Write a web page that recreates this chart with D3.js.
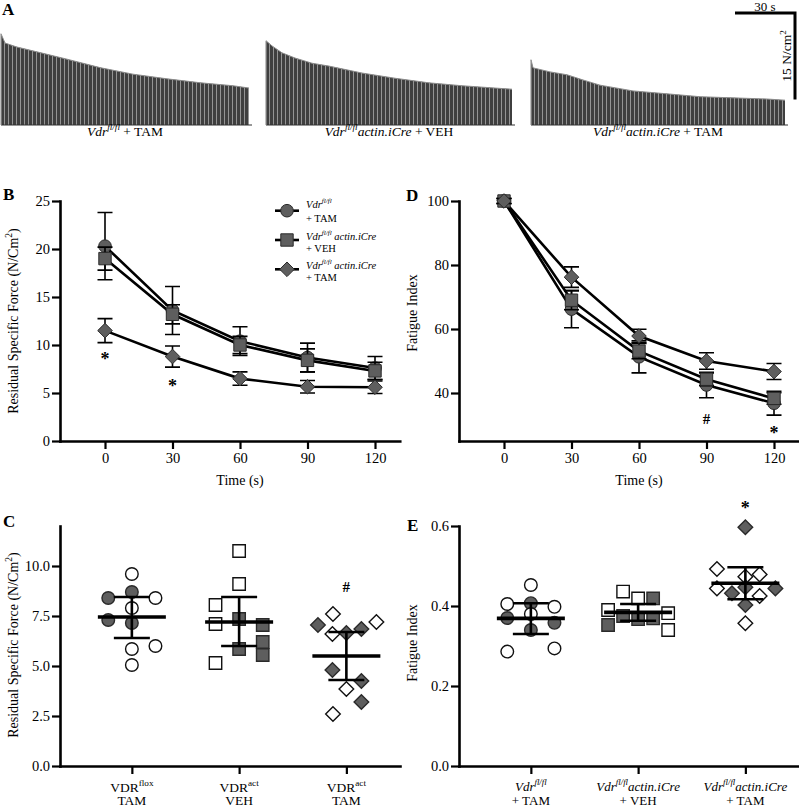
<!DOCTYPE html>
<html>
<head>
<meta charset="utf-8">
<script src="https://cdn.jsdelivr.net/npm/d3@7/dist/d3.min.js"></script>
<style>
html,body{margin:0;padding:0;background:#fff;}
svg{display:block;}
svg text{white-space:pre;font-family:"Liberation Serif",serif;}
</style>
</head>
<body>
<svg id="fig" width="799" height="807"></svg>
<script>
// ===================== DATA =====================
// Panel A: representative traces – peak force envelope (N/cm²) vs time (s)
const traceTimes1 = [0, 2, 8, 20, 33, 50, 66, 83, 100, 116, 124];
const tracePeaks1 = [15.8, 14.2, 13.5, 12.5, 11.4, 9.9, 8.8, 8.0, 7.3, 6.8, 6.4];
const traceTimes2 = [0, 3, 8, 14.5, 23, 31.5, 48, 64.5, 81.5, 98, 114.5, 123];
const tracePeaks2 = [14.6, 13.7, 12.5, 11.6, 10.7, 10.2, 9.0, 8.1, 7.3, 6.8, 6.4, 6.2];
const traceTimes3 = [0, 1, 9.5, 18, 26, 34.5, 51, 68, 84.5, 101, 118, 127];
const tracePeaks3 = [11.3, 9.9, 9.2, 8.7, 7.8, 6.9, 5.9, 5.4, 4.9, 4.7, 4.5, 4.3];
const scaleBarTime = 30;     // s
const scaleBarForce = 15;    // N/cm²

// Panels B & D: time course
const timePoints = [0, 30, 60, 90, 120];
const forceCtrlMean = [20.3, 13.6, 10.4, 8.7, 7.6];
const forceCtrlSem  = [3.5, 2.5, 1.5, 1.5, 1.2];
const forceVehMean  = [19.0, 13.2, 10.0, 8.4, 7.3];
const forceVehSem   = [1.2, 1.0, 0.9, 1.2, 0.9];
const forceTamMean  = [11.5, 8.8, 6.5, 5.65, 5.6];
const forceTamSem   = [1.25, 1.1, 0.7, 0.65, 0.65];
const forceYTicks = [0, 5, 10, 15, 20, 25];

const fatCtrlMean = [100, 66.2, 51.3, 42.5, 36.8];
const fatCtrlSem  = [0.8, 5.8, 5.0, 4.0, 3.7];
const fatVehMean  = [100, 69.0, 53.1, 44.3, 38.3];
const fatVehSem   = [0.8, 3.0, 2.4, 2.0, 1.8];
const fatTamMean  = [100, 76.2, 57.8, 50.0, 46.7];
const fatTamSem   = [0.8, 3.2, 2.1, 2.6, 2.5];
const fatYTicks = [40, 60, 80, 100];

// significance marks (time, value, symbol)
const marksB = [[0, 8.9, "*"], [30, 6.07, "*"]];
const marksD = [[90, 31.9, "#"], [120, 28.4, "*"]];

// Panel C: residual specific force, individual animals
const cCircleVals   = [9.6, 8.4, 8.7, 8.4, 7.9, 7.3, 7.15, 5.85, 6.0, 5.05];
const cCircleJit    = [0, -0.22, 0, 0.22, 0, -0.22, 0, 0, 0.22, 0];
const cCircleFilled = [0, 1, 1, 0, 0, 1, 1, 0, 0, 0];
const cSquareVals   = [10.75, 9.1, 8.05, 7.1, 7.35, 7.05, 6.2, 5.85, 5.55, 5.15];
const cSquareJit    = [0, 0, -0.22, -0.22, 0, 0.22, 0.22, 0, 0.22, -0.22];
const cSquareFilled = [0, 0, 0, 0, 1, 1, 1, 1, 1, 0];
const cDiamondVals   = [7.6, 7.2, 7.05, 6.65, 6.85, 6.6, 4.8, 4.25, 3.85, 3.2, 2.6];
const cDiamondJit    = [-0.125, 0.28, -0.265, 0, 0.14, -0.13, -0.13, 0.14, 0, 0.14, -0.125];
const cDiamondFilled = [0, 0, 1, 1, 1, 0, 1, 1, 0, 1, 0];
const cMean  = [7.45, 7.2, 5.5];
const cUpper = [8.45, 8.45, 6.7];
const cLower = [6.4, 6.0, 4.3];
const cYTicks = [0, 2.5, 5, 7.5, 10];
const marksC = [[2, 8.97, "#"]];

// Panel E: fatigue index, individual animals
const eCircleVals   = [0.4525, 0.405, 0.407, 0.398, 0.38, 0.37, 0.358, 0.34, 0.286, 0.294];
const eCircleJit    = [0, -0.22, 0, 0.22, 0, -0.22, 0.22, 0, -0.22, 0.22];
const eCircleFilled = [0, 0, 1, 0, 0, 1, 1, 1, 0, 0];
const eSquareVals   = [0.436, 0.419, 0.419, 0.39, 0.375, 0.367, 0.369, 0.382, 0.3525, 0.34];
const eSquareJit    = [-0.14, 0, 0.14, -0.28, -0.14, 0, 0.14, 0.28, -0.28, 0.28];
const eSquareFilled = [0, 0, 1, 0, 1, 1, 1, 0, 1, 0];
const eDiamondVals   = [0.597, 0.4925, 0.4733, 0.479, 0.4317, 0.4467, 0.444, 0.444, 0.425, 0.4025, 0.357];
const eDiamondJit    = [0, -0.265, 0, 0.133, -0.125, 0, -0.265, 0.28, 0.133, 0, 0];
const eDiamondFilled = [1, 0, 0, 0, 1, 1, 0, 1, 0, 1, 0];
const eMean  = [0.369, 0.384, 0.457];
const eUpper = [0.407, 0.405, 0.497];
const eLower = [0.33, 0.363, 0.417];
const eYTicks = [0, 0.2, 0.4, 0.6];
const marksE = [[2, 0.6525, "*"]];

// Labels
const VDR = [{t: "Vdr", i: 1}, {t: "fl/fl", i: 1, sup: 1}];
const traceLabels = [
  VDR.concat([{t: " + TAM"}]),
  VDR.concat([{t: "actin.iCre", i: 1}, {t: " + VEH"}]),
  VDR.concat([{t: "actin.iCre", i: 1}, {t: " + TAM"}])
];
const legendLabels = [
  [VDR, [{t: "+ TAM"}]],
  [VDR.concat([{t: " actin.iCre", i: 1}]), [{t: "+ VEH"}]],
  [VDR.concat([{t: " actin.iCre", i: 1}]), [{t: "+ TAM"}]]
];
const cCatLabels = [
  [[{t: "VDR"}, {t: "flox", sup: 1}], [{t: "TAM"}]],
  [[{t: "VDR"}, {t: "act", sup: 1}], [{t: "VEH"}]],
  [[{t: "VDR"}, {t: "act", sup: 1}], [{t: "TAM"}]]
];
const eCatLabels = [
  [VDR, [{t: "+ TAM"}]],
  [VDR.concat([{t: "actin.iCre", i: 1}]), [{t: "+ VEH"}]],
  [VDR.concat([{t: "actin.iCre", i: 1}]), [{t: "+ TAM"}]]
];
const forceLabel = [{t: "Residual Specific Force (N/Cm"}, {t: "2", sup: 1}, {t: ")"}];
const fatigueLabel = [{t: "Fatigue Index"}];
const timeLabel = [{t: "Time (s)"}];

// ===================== DRAWING =====================
const SERIF = "Liberation Serif";
const svg = d3.select("#fig");
const FILL = "#5e5e5e", EDGE = "#2a2a2a";

function rich(parent, x, y, parts, size, anchor) {
  const t = parent.append("text").attr("x", x).attr("y", y)
    .attr("font-family", SERIF).attr("font-size", size)
    .attr("text-anchor", anchor || "middle").attr("fill", "#000");
  let up = false;
  parts.forEach(p => {
    const s = t.append("tspan").text(p.t);
    if (p.i) s.attr("font-style", "italic");
    if (p.sup) {
      s.attr("font-size", size * 0.68);
      if (!up) { s.attr("dy", -size * 0.42); up = true; }
    } else if (up) { s.attr("dy", size * 0.42); up = false; }
  });
  return t;
}
function vrich(parent, cx, cy, parts, size) {
  const g = parent.append("g").attr("transform", `translate(${cx + size * 0.33},${cy}) rotate(-90)`);
  return rich(g, 0, 0, parts, size, "middle");
}
function panelLetter(x, y, s) {
  svg.append("text").attr("x", x).attr("y", y).attr("font-family", SERIF)
    .attr("font-weight", "bold").attr("font-size", 17).text(s);
}
const shapes = {
  circle: r => `M${-r},0A${r},${r} 0 1,0 ${r},0A${r},${r} 0 1,0 ${-r},0Z`,
  square: r => `M${-r},${-r}H${r}V${r}H${-r}Z`,
  diamond: r => `M0,${-r}L${r},0L0,${r}L${-r},0Z`
};
const shapeSize = {circle: 6.3, square: 6.2, diamond: 7.3};

function styleAxis(g, fs) {
  g.attr("font-family", SERIF);
  g.select(".domain").attr("stroke", "#000").attr("stroke-width", 2.6).attr("stroke-linecap", "square");
  g.selectAll(".tick line").attr("stroke", "#000").attr("stroke-width", 2.2);
  g.selectAll(".tick text").attr("font-family", SERIF).attr("font-size", fs || 14).attr("fill", "#000");
}

// ---------- Panel A ----------
panelLetter(2, 15, "A");
const defs = svg.append("defs");
const pat = defs.append("pattern").attr("id", "stripes").attr("patternUnits", "userSpaceOnUse")
  .attr("width", 4).attr("height", 8);
pat.append("rect").attr("x", 3).attr("width", 1).attr("height", 8).attr("fill", "#b0b0b0").attr("fill-opacity", 0.75);

const xT = d3.scaleLinear().domain([0, scaleBarTime]).range([0, 60]);
const yT = d3.scaleLinear().domain([0, scaleBarForce]).range([125, 125 - 86.6]);
const traceArea = d3.area().x(d => xT(d[0])).y0(yT(0)).y1(d => yT(d[1]));
const traceTop = d3.line().x(d => xT(d[0])).y(d => yT(d[1]));
const traces = [[traceTimes1, tracePeaks1], [traceTimes2, tracePeaks2], [traceTimes3, tracePeaks3]];
const traceX0 = [1, 266, 531];
traces.forEach((tr, k) => {
  const pts = tr[0].map((t, i) => [t, tr[1][i]]);
  const g = svg.append("g").attr("transform", `translate(${traceX0[k]},0)`);
  g.append("path").datum(pts).attr("d", traceArea).style("fill", "#3f3f3f");
  g.append("path").datum(pts).attr("d", traceArea).style("fill", "url(#stripes)");
  g.append("path").datum(pts).attr("d", traceTop).attr("fill", "none").attr("stroke", "#8c8c8c").attr("stroke-width", 1);
  const tEnd = tr[0][tr[0].length - 1];
  g.append("line").attr("x1", xT(0)).attr("x2", xT(tEnd) + 3).attr("y1", yT(0)).attr("y2", yT(0))
    .attr("stroke", "#333").attr("stroke-width", 1.2);
  g.append("line").attr("x1", xT(0)).attr("x2", xT(0)).attr("y1", yT(0)).attr("y2", yT(tr[1][0]))
    .attr("stroke", "#9a9a9a").attr("stroke-width", 1.2);
  rich(g, (xT(0) + xT(tEnd)) / 2, 136, traceLabels[k], 13.5, "middle");
});
// scale bar
const sb = svg.append("g").attr("transform", "translate(735,0)");
sb.append("path").attr("d", `M${xT(0)},13H${xT(scaleBarTime)}V${13 + (yT(0) - yT(scaleBarForce))}`)
  .attr("fill", "none").attr("stroke", "#000").attr("stroke-width", 3);
rich(sb, xT(scaleBarTime / 2), 10.5, [{t: "30 s"}], 13, "middle");
vrich(sb, xT(scaleBarTime) - 8, 56, [{t: "15 N/cm"}, {t: "2", sup: 1}], 13.5);

// ---------- Line charts (B, D) ----------
function lineChart(cfg) {
  const g = svg.append("g");
  const xs = d3.scaleLinear().domain([-20, 131]).range([cfg.x0, cfg.x0 + 339.75]);
  const ys = d3.scaleLinear().domain(cfg.ydom).range([441, 201]);
  const ax = g.append("g").attr("transform", "translate(0,441)")
    .call(d3.axisBottom(xs).tickValues(timePoints).tickFormat(d3.format("d")).tickSize(8).tickSizeOuter(0).tickPadding(4));
  styleAxis(ax, 14.5);
  const ay = g.append("g").attr("transform", `translate(${cfg.x0},0)`)
    .call(d3.axisLeft(ys).tickValues(cfg.yticks).tickFormat(d3.format("d")).tickSize(8).tickSizeOuter(0).tickPadding(2));
  styleAxis(ay, 14.5);
  rich(g, xs(60), 485, timeLabel, 14, "middle");
  vrich(g, cfg.x0 - 47, cfg.ylabY, cfg.ylabel, 14);

  const line = d3.line().x(d => xs(d[0])).y(d => ys(d[1]));
  cfg.series.forEach(s => {
    g.append("path").datum(timePoints.map((t, i) => [t, s.mean[i]])).attr("d", line)
      .attr("fill", "none").attr("stroke", "#000").attr("stroke-width", 2.6);
  });
  cfg.series.forEach(s => {
    timePoints.forEach((t, i) => {
      const x = xs(t), yu = ys(s.mean[i] + s.sem[i]), yl = ys(s.mean[i] - s.sem[i]);
      g.append("path").attr("d", `M${x},${yu}V${yl}M${x - 7.5},${yu}H${x + 7.5}M${x - 7.5},${yl}H${x + 7.5}`)
        .attr("fill", "none").attr("stroke", "#000").attr("stroke-width", 1.6);
    });
    timePoints.forEach((t, i) => {
      g.append("path").attr("d", shapes[s.shape](shapeSize[s.shape]))
        .attr("transform", `translate(${xs(t)},${ys(s.mean[i])})`)
        .attr("fill", FILL).attr("stroke", EDGE).attr("stroke-width", 1);
    });
  });
  cfg.marks.forEach(m => {
    g.append("text").attr("x", xs(m[0])).attr("y", ys(m[1]) + (m[2] === "*" ? 9 : 5.5))
      .attr("text-anchor", "middle").attr("font-family", SERIF).attr("font-weight", "bold")
      .attr("font-size", m[2] === "*" ? 18 : 15).text(m[2]);
  });
  return {g, xs, ys};
}

panelLetter(3, 200, "B");
const B = lineChart({
  x0: 60, ydom: [0, 25], yticks: forceYTicks, ylabel: forceLabel, ylabY: 321,
  series: [
    {mean: forceCtrlMean, sem: forceCtrlSem, shape: "circle"},
    {mean: forceVehMean, sem: forceVehSem, shape: "square"},
    {mean: forceTamMean, sem: forceTamSem, shape: "diamond"}
  ],
  marks: marksB
});
// legend
const legShapes = ["circle", "square", "diamond"];
const legY = [210.7, 240, 269.3];
legShapes.forEach((sh, k) => {
  const y = legY[k];
  B.g.append("line").attr("x1", 275).attr("x2", 299).attr("y1", y).attr("y2", y)
    .attr("stroke", "#000").attr("stroke-width", 2.6);
  B.g.append("path").attr("d", shapes[sh](shapeSize[sh])).attr("transform", `translate(287,${y})`)
    .attr("fill", FILL).attr("stroke", EDGE).attr("stroke-width", 1);
  rich(B.g, 306, y - (k === 0 ? 3 : 0.5), legendLabels[k][0], 10.5, "start");
  rich(B.g, 306, y + 11.5, legendLabels[k][1], 10.5, "start");
});

panelLetter(406, 201, "D");
lineChart({
  x0: 459, ydom: [25, 100], yticks: fatYTicks, ylabel: fatigueLabel, ylabY: 313,
  series: [
    {mean: fatCtrlMean, sem: fatCtrlSem, shape: "circle"},
    {mean: fatVehMean, sem: fatVehSem, shape: "square"},
    {mean: fatTamMean, sem: fatTamSem, shape: "diamond"}
  ],
  marks: marksD
});

// ---------- Scatter charts (C, E) ----------
function scatterChart(cfg) {
  const g = svg.append("g");
  const xs = d3.scaleLinear().domain([-0.67, 2.5]).range([cfg.x0, cfg.x0 + 340]);
  const ys = d3.scaleLinear().domain(cfg.ydom).range([766, 526]);
  const ax = g.append("g").attr("transform", "translate(0,766)")
    .call(d3.axisBottom(xs).tickValues([0, 1, 2]).tickFormat("").tickSize(8).tickSizeOuter(0));
  styleAxis(ax);
  const ay = g.append("g").attr("transform", `translate(${cfg.x0},0)`)
    .call(d3.axisLeft(ys).tickValues(cfg.yticks).tickFormat(d3.format(".1f")).tickSize(8).tickSizeOuter(0).tickPadding(2));
  styleAxis(ay, 14.5);
  vrich(g, cfg.x0 - 47, cfg.ylabY, cfg.ylabel, 14);
  cfg.catLabels.forEach((lab, i) => {
    rich(g, xs(i), cfg.labY[0], lab[0], cfg.labSize, "middle");
    rich(g, xs(i), cfg.labY[1], lab[1], cfg.labSize, "middle");
  });
  cfg.groups.forEach((grp, i) => {
    grp.vals.forEach((v, j) => {
      g.append("path").attr("d", shapes[grp.shape](shapeSize[grp.shape]))
        .attr("transform", `translate(${xs(i + grp.jit[j])},${ys(v)})`)
        .attr("fill", grp.filled[j] ? FILL : "#fff")
        .attr("stroke", grp.filled[j] ? EDGE : "#111").attr("stroke-width", 1.4);
    });
  });
  cfg.mean.forEach((m, i) => {
    const x = xs(i);
    g.append("path").attr("d", `M${x},${ys(cfg.upper[i])}V${ys(cfg.lower[i])}M${x - 18},${ys(cfg.upper[i])}H${x + 18}M${x - 18},${ys(cfg.lower[i])}H${x + 18}`)
      .attr("fill", "none").attr("stroke", "#000").attr("stroke-width", 2.6);
    g.append("line").attr("x1", x - 34).attr("x2", x + 34).attr("y1", ys(m)).attr("y2", ys(m))
      .attr("stroke", "#000").attr("stroke-width", 3.6);
  });
  cfg.marks.forEach(m => {
    g.append("text").attr("x", xs(m[0])).attr("y", ys(m[1]) + (m[2] === "*" ? 9 : 5.5))
      .attr("text-anchor", "middle").attr("font-family", SERIF).attr("font-weight", "bold")
      .attr("font-size", m[2] === "*" ? 18 : 15).text(m[2]);
  });
}

panelLetter(3, 527, "C");
scatterChart({
  x0: 60, ydom: [0, 12], yticks: cYTicks, ylabel: forceLabel, ylabY: 645,
  catLabels: cCatLabels, labY: [791.5, 805], labSize: 13.5,
  groups: [
    {vals: cCircleVals, jit: cCircleJit, filled: cCircleFilled, shape: "circle"},
    {vals: cSquareVals, jit: cSquareJit, filled: cSquareFilled, shape: "square"},
    {vals: cDiamondVals, jit: cDiamondJit, filled: cDiamondFilled, shape: "diamond"}
  ],
  mean: cMean, upper: cUpper, lower: cLower, marks: marksC
});

panelLetter(407, 531, "E");
scatterChart({
  x0: 459, ydom: [0, 0.6], yticks: eYTicks, ylabel: fatigueLabel, ylabY: 643,
  catLabels: eCatLabels, labY: [790.5, 804.5], labSize: 13,
  groups: [
    {vals: eCircleVals, jit: eCircleJit, filled: eCircleFilled, shape: "circle"},
    {vals: eSquareVals, jit: eSquareJit, filled: eSquareFilled, shape: "square"},
    {vals: eDiamondVals, jit: eDiamondJit, filled: eDiamondFilled, shape: "diamond"}
  ],
  mean: eMean, upper: eUpper, lower: eLower, marks: marksE
});
</script>
</body>
</html>
